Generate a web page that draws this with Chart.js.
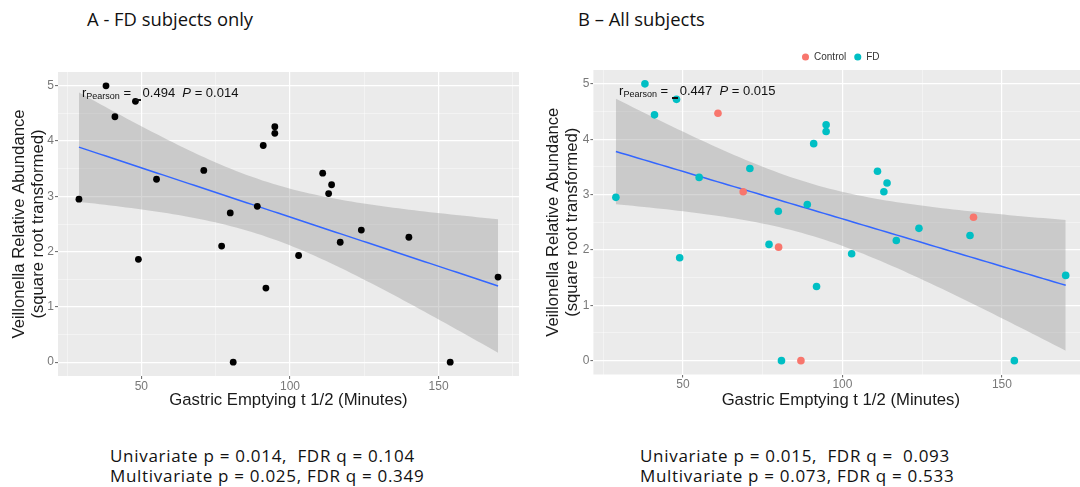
<!DOCTYPE html>
<html lang="en">
<head>
<meta charset="UTF-8">
<title>Veillonella abundance vs gastric emptying</title>
<script src="https://cdn.jsdelivr.net/npm/chart.js@4"></script>
<style>
  html, body { margin: 0; padding: 0; background: #fff; }
  body { width: 1080px; height: 487px; position: relative; overflow: hidden; }
  .panel { position: absolute; }
  .heading { position: absolute; font-family: "Open Sans", sans-serif; font-size: 18.4px; line-height: 24px; color: #111; white-space: nowrap; }
  .stats { position: absolute; font-family: "Open Sans", sans-serif; font-size: 17px; line-height: 19.7px; letter-spacing: 0.7px; color: #111; white-space: nowrap; }
</style>
</head>
<body>

<div class="heading" style="left:87px; top:7px;">A - FD subjects only</div>
<div class="heading" style="left:578px; top:7px;">B – All subjects</div>

<div class="panel" style="left:0; top:60px;"><canvas id="chartA" width="540" height="350"></canvas></div>
<div class="panel" style="left:540px; top:40px;"><canvas id="chartB" width="552" height="370"></canvas></div>

<div class="stats" style="left:110px; top:446px;">Univariate p = 0.014,&nbsp; FDR q = 0.104<br>Multivariate p = 0.025, FDR q = 0.349</div>
<div class="stats" style="left:640px; top:446px;">Univariate p = 0.015,&nbsp; FDR q =&nbsp; 0.093<br>Multivariate p = 0.073, FDR q = 0.533</div>

<script>
// FD patients: gastric emptying half time (min) and sqrt-transformed Veillonella abundance
const fdGastric = [29.0, 38.1, 41.1, 48.0, 49.0, 55.1, 71.0, 77.0, 79.9, 80.9, 89.0, 91.0,
                   91.9, 94.9, 94.9, 102.9, 111.0, 113.0, 114.0, 116.9, 124.0, 140.0, 153.9, 170.0];
const fdVeillonella = [2.95, 5.00, 4.44, 4.72, 1.86, 3.31, 3.47, 2.10, 2.70, 0.00, 2.82, 3.92,
                       1.34, 4.26, 4.14, 1.93, 3.42, 3.05, 3.21, 2.17, 2.39, 2.26, 0.00, 1.54];
// healthy controls
const controlGastric = [61.0, 68.9, 80.0, 87.0, 141.1];
const controlVeillonella = [4.47, 3.05, 2.05, 0.00, 2.59];

const xMajorTicks = [50, 100, 150];
const xMinorTicks = [25, 75, 125, 175];
const yMajorTicks = [0, 1, 2, 3, 4, 5];
const yMinorTicks = [0.5, 1.5, 2.5, 3.5, 4.5];

const pearsonA = ['0.494', '0.014'];
const pearsonB = ['0.447', '0.015'];

Chart.defaults.font.family = '"Liberation Sans", Arial, sans-serif';

// two-sided 95% t quantile (Cornish-Fisher expansion)
function tQuantile(df) {
  const z = 1.959964;
  return z + (z ** 3 + z) / (4 * df) + (5 * z ** 5 + 16 * z ** 3 + 3 * z) / (96 * df * df);
}

// least squares line with 95% confidence band, like geom_smooth(method = "lm")
function lmBand(xs, ys, steps) {
  const n = xs.length;
  const mx = xs.reduce((a, b) => a + b, 0) / n;
  const my = ys.reduce((a, b) => a + b, 0) / n;
  let sxx = 0, sxy = 0;
  for (let i = 0; i < n; i++) {
    sxx += (xs[i] - mx) ** 2;
    sxy += (xs[i] - mx) * (ys[i] - my);
  }
  const slope = sxy / sxx, icpt = my - slope * mx;
  let sse = 0;
  for (let i = 0; i < n; i++) sse += (ys[i] - icpt - slope * xs[i]) ** 2;
  const s = Math.sqrt(sse / (n - 2)), t = tQuantile(n - 2);
  const lo = Math.min(...xs), hi = Math.max(...xs);
  const fit = [], upper = [], lower = [];
  for (let k = 0; k <= steps; k++) {
    const x = lo + (hi - lo) * k / steps;
    const y = icpt + slope * x;
    const se = s * Math.sqrt(1 / n + (x - mx) ** 2 / sxx);
    fit.push({x, y});
    upper.push({x, y: y + t * se});
    lower.push({x, y: y - t * se});
  }
  return {fit, upper, lower};
}

// ggplot-style 5% expansion around the data
function expand(vals) {
  const lo = Math.min(...vals), hi = Math.max(...vals), pad = (hi - lo) * 0.05;
  return [lo - pad, hi + pad];
}

const panelBg = {
  id: 'panelBg',
  beforeDraw(chart) {
    const {ctx, chartArea: a} = chart;
    ctx.save();
    ctx.fillStyle = '#EBEBEB';
    ctx.fillRect(a.left, a.top, a.right - a.left, a.bottom - a.top);
    ctx.restore();
  }
};

// r_Pearson = -0.494  P = 0.014 label
const corrLabel = {
  id: 'corrLabel',
  afterDatasetsDraw(chart, args, opts) {
    const {ctx, scales} = chart;
    let px = scales.x.getPixelForValue(opts.x);
    const py = scales.y.getPixelForValue(opts.y);
    const fam = '"Liberation Sans", Arial, sans-serif';
    ctx.save();
    ctx.fillStyle = '#111';
    ctx.textBaseline = 'middle';
    const put = (txt, font, dy) => {
      ctx.font = font + ' ' + fam;
      ctx.fillText(txt, px, py + dy);
      px += ctx.measureText(txt).width;
    };
    put('r', '13px', 0);
    put('Pearson', '9px', 3);
    put(' = ', '13px', 0);
    // the minus sign sits low, at subscript level
    ctx.fillRect(Math.round(px), Math.round(py + 5), 6, 2);
    px += 8;
    put(opts.r, '13px', 0);
    put('  ', '13px', 0);
    put('P', 'italic 13px', 0);
    put(' = ' + opts.p, '13px', 0);
    ctx.restore();
  }
};

function makePanel(id, groups, cfg) {
  const allX = groups.flatMap(g => g.xs);
  const allY = groups.flatMap(g => g.ys);
  const [xMin, xMax] = expand(allX);
  const [yMin, yMax] = expand(allY);
  const band = lmBand(allX, allY, 80);

  const datasets = groups.map(g => ({
    label: g.label,
    data: g.xs.map((x, i) => ({x, y: g.ys[i]})),
    backgroundColor: g.color,
    borderColor: g.color,
    borderWidth: 0,
    pointStyle: 'circle',
    pointRadius: cfg.radius,
    pointHoverRadius: cfg.radius
  }));
  datasets.push({
    label: 'fit', data: band.fit, showLine: true, fill: false,
    borderColor: '#3366FF', borderWidth: 1.5, pointRadius: 0
  });
  datasets.push({
    label: 'upper', data: band.upper, showLine: true, fill: false,
    borderColor: 'rgba(0,0,0,0)', borderWidth: 0, pointRadius: 0
  });
  datasets.push({
    label: 'lower', data: band.lower, showLine: true, fill: '-1',
    borderColor: 'rgba(0,0,0,0)', borderWidth: 0, pointRadius: 0,
    backgroundColor: 'rgba(153,153,153,0.4)'
  });

  const gridColor = (major) => major ? '#FFFFFF' : 'rgba(255,255,255,0.7)';
  const tickFont = {size: 12};

  return new Chart(document.getElementById(id), {
    type: 'scatter',
    data: {datasets},
    plugins: [panelBg, corrLabel],
    options: {
      responsive: false,
      animation: false,
      layout: {padding: cfg.padding},
      plugins: {
        tooltip: {enabled: false},
        corrLabel: {x: 30, y: 4.86, r: cfg.stats[0], p: cfg.stats[1]},
        legend: {
          display: cfg.legend,
          position: 'top',
          fullSize: false,
          maxHeight: 26,
          labels: {
            usePointStyle: true,
            boxWidth: 7,
            boxHeight: 5,
            padding: 8,
            color: '#333',
            font: {size: 10},
            filter: item => groups.some(g => g.label === item.text)
          }
        }
      },
      scales: {
        x: {
          type: 'linear',
          min: xMin,
          max: xMax,
          afterBuildTicks: s => { s.ticks = [...xMajorTicks, ...xMinorTicks].sort((a, b) => a - b).map(v => ({value: v})); },
          afterFit: s => { s.height = cfg.xHeight; },
          border: {display: false},
          grid: {
            color: c => gridColor(xMajorTicks.includes(c.tick.value)),
            lineWidth: c => xMajorTicks.includes(c.tick.value) ? 1.2 : 0.6,
            tickColor: c => xMajorTicks.includes(c.tick.value) ? '#666' : 'rgba(0,0,0,0)',
            tickWidth: 1,
            tickLength: 3
          },
          ticks: {
            autoSkip: false,
            maxRotation: 0,
            padding: 0,
            color: '#787878',
            font: tickFont,
            callback: v => xMajorTicks.includes(v) ? String(v) : ''
          },
          title: {
            display: true,
            text: 'Gastric Emptying t 1/2 (Minutes)',
            color: '#1a1a1a',
            font: {size: 16.7},
            padding: {top: 0, bottom: 0}
          }
        },
        y: {
          type: 'linear',
          min: yMin,
          max: yMax,
          afterBuildTicks: s => { s.ticks = [...yMajorTicks, ...yMinorTicks].sort((a, b) => a - b).map(v => ({value: v})); },
          afterFit: s => { s.width = cfg.yWidth; },
          border: {display: false},
          grid: {
            color: c => gridColor(yMajorTicks.includes(c.tick.value)),
            lineWidth: c => yMajorTicks.includes(c.tick.value) ? 1.2 : 0.6,
            tickColor: c => yMajorTicks.includes(c.tick.value) ? '#666' : 'rgba(0,0,0,0)',
            tickWidth: 1,
            tickLength: 3
          },
          ticks: {
            autoSkip: false,
            padding: 1,
            color: '#787878',
            font: tickFont,
            callback: v => yMajorTicks.includes(v) ? String(v) : ''
          },
          title: {
            display: true,
            text: ['Veillonella Relative Abundance', '(square root transformed)'],
            color: '#1a1a1a',
            font: {size: 16.7, lineHeight: 1.12},
            padding: {top: cfg.titlePad, bottom: 0}
          }
        }
      }
    }
  });
}

makePanel('chartA', [
  {label: 'FD', xs: fdGastric, ys: fdVeillonella, color: '#000000'}
], {radius: 3.4, legend: false, padding: {top: 12, right: 21, left: 0, bottom: 0},
    yWidth: 58, xHeight: 34, titlePad: 10.5, stats: pearsonA});

makePanel('chartB', [
  {label: 'Control', xs: controlGastric, ys: controlVeillonella, color: '#F8766D'},
  {label: 'FD', xs: fdGastric, ys: fdVeillonella, color: '#00BFC4'}
], {radius: 3.8, legend: true, padding: {top: 4, right: 2, left: 0, bottom: 0},
    yWidth: 53.4, xHeight: 35.5, titlePad: 4, stats: pearsonB});
</script>
</body>
</html>
